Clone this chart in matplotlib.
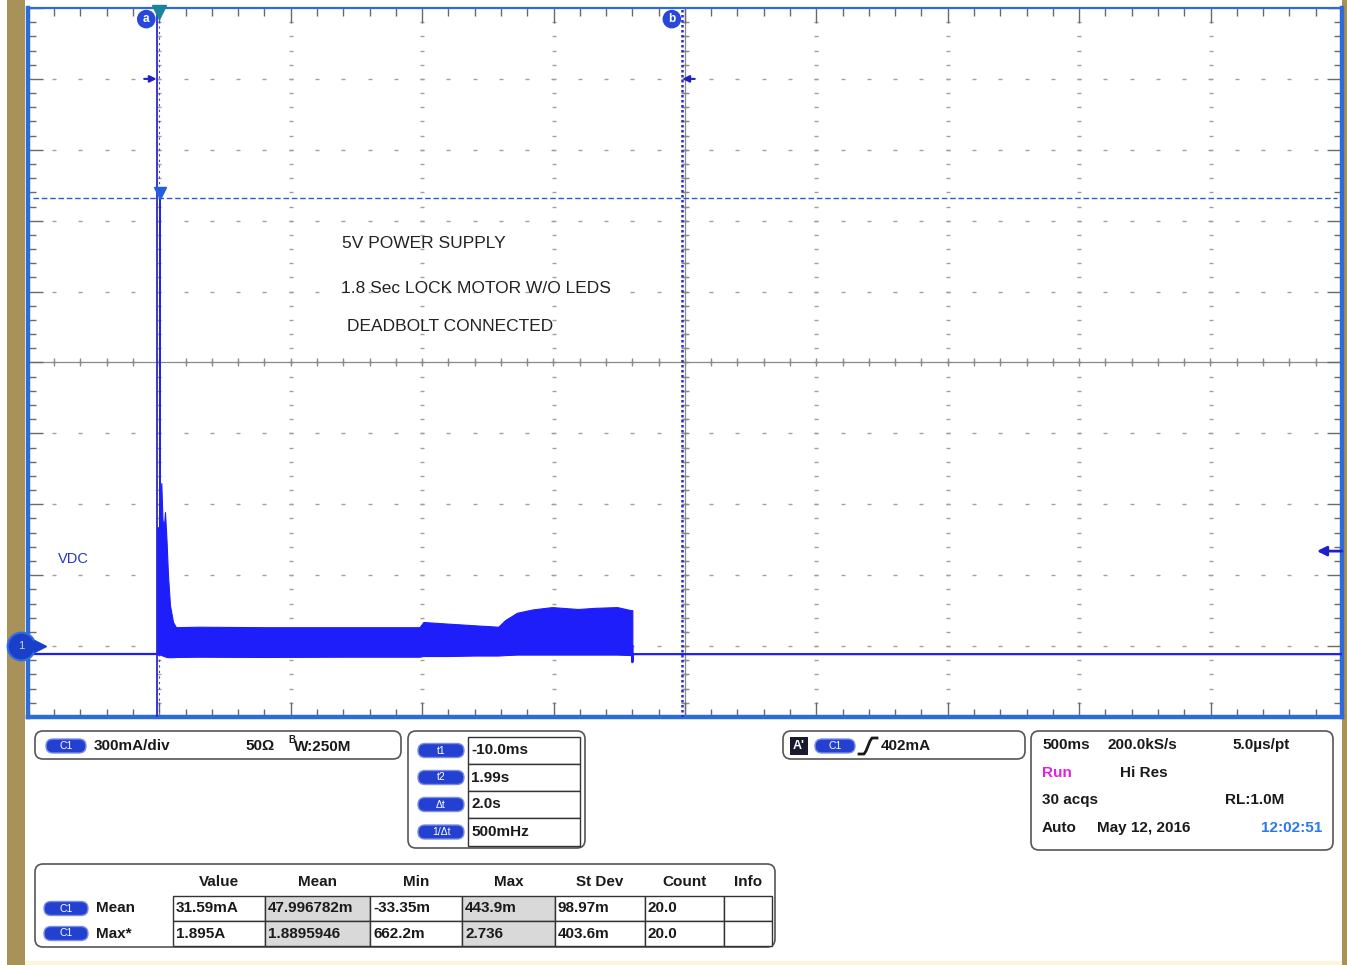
import numpy as np
import matplotlib.pyplot as plt
from matplotlib.patches import FancyBboxPatch, Rectangle
from matplotlib.transforms import offset_copy

plt.rcParams['font.family'] = ['Liberation Sans', 'DejaVu Sans']

# scope setup: 500 ms/div, 300 mA/div, 10 x 10 divisions
t_left, t_right = -0.5, 4.5
i_bottom, i_top = -0.3, 2.7
t_div, i_div = 0.5, 0.3

t1 = -0.010          # cursor a
t2 = 1.99            # cursor b
trig_level = 0.402   # A
max_level = 1.895    # A, Max* readout line
arrow_level = 2.40   # cursor arrows
ground = 0.0
baseline = -0.034

# trace envelope (s, A)
env_t = [-0.0088, -0.0011, 0.0027, 0.0076, 0.0122, 0.0179, 0.0217, 0.0274, 0.0331,
         0.0407, 0.0521, 0.0635, 0.15, 0.40, 0.70, 0.99, 1.005, 1.10, 1.20, 1.29,
         1.316, 1.361, 1.42, 1.494, 1.593, 1.66, 1.742, 1.795, 1.800]
env_hi = [0.503, 0.503, 0.618, 0.690, 0.533, 0.512, 0.567, 0.449, 0.300,
          0.173, 0.102, 0.080, 0.082, 0.080, 0.080, 0.080, 0.102, 0.095, 0.088, 0.082,
          0.110, 0.141, 0.155, 0.165, 0.157, 0.162, 0.165, 0.152, 0.152]
env_lo = [-0.036, -0.036, -0.036, -0.038, -0.040, -0.042, -0.044, -0.046, -0.047,
          -0.047, -0.047, -0.046, -0.045, -0.046, -0.045, -0.045, -0.042, -0.042, -0.040, -0.040,
          -0.038, -0.036, -0.036, -0.036, -0.036, -0.036, -0.036, -0.038, -0.038]
spike_t = [0.0027, 0.0027]
spike_i = [0.503, 1.895]
pre_t = [t_left, -0.0088]
pre_i = [baseline, baseline]
post_t = [1.800, 1.800, 1.803, t_right]
post_i = [0.0, -0.068, baseline, baseline]

notes = ["5V POWER SUPPLY", "1.8 Sec LOCK MOTOR W/O LEDS", "DEADBOLT CONNECTED"]
notes_t = [0.695, 0.691, 0.714]
notes_i = [1.705, 1.515, 1.354]

cursor_labels = ["t1", "t2", "\u0394t", "1/\u0394t"]
cursor_values = ["-10.0ms", "1.99s", "2.0s", "500mHz"]

meas_cols = ["Value", "Mean", "Min", "Max", "St Dev", "Count", "Info"]
meas_rows = ["Mean", "Max*"]
meas_vals = [["31.59mA", "47.996782m", "-33.35m", "443.9m", "98.97m", "20.0", ""],
             ["1.895A", "1.8895946", "662.2m", "2.736", "403.6m", "20.0", ""]]

W, H = 1347, 965
fig = plt.figure(figsize=(W / 100, H / 100), dpi=100)

# background panel in pixel coordinates
panel = fig.add_axes([0, 0, 1, 1], zorder=0)
panel.set_xlim(0, W)
panel.set_ylim(H, 0)
panel.axis('off')
panel.add_patch(Rectangle((7, 0), 18, H, fc='#a89259', ec='none'))
panel.add_patch(Rectangle((1342, 0), 5, H, fc='#a89259', ec='none'))
panel.add_patch(Rectangle((25, 961), 1317, 4, fc='#fbf5dc', ec='none'))

# scope screen
ax = fig.add_axes([27.9 / W, 1 - 717 / H, 1314 / W, 709 / H], zorder=1)
ax.set_xlim(t_left, t_right)
ax.set_ylim(i_bottom, i_top)
ax.set_facecolor('white')

ax.set_xticks(np.arange(t_left, t_right + 0.01, t_div))
ax.set_xticks(np.arange(t_left, t_right + 0.01, t_div / 5), minor=True)
ax.set_yticks(np.arange(i_bottom, i_top + 0.001, i_div))
ax.set_yticks(np.arange(i_bottom, i_top + 0.001, i_div / 5), minor=True)
ax.tick_params(which='both', direction='in', top=True, right=True,
               labelbottom=False, labelleft=False, color='#6a6a6a', width=1)
ax.tick_params(which='major', length=11)
ax.tick_params(which='minor', length=6)
for s in ax.spines.values():
    s.set_color('#2d6bd9')
    s.set_linewidth(3.2)
ax.spines['top'].set_linewidth(1.6)

# dotted graticule
gx = np.arange(t_left, t_right + 0.01, t_div)[1:-1]
gy = np.arange(i_bottom, i_top + 0.001, i_div)[1:-1]
mx = np.arange(t_left, t_right + 0.01, t_div / 5)[1:-1]
my = np.arange(i_bottom, i_top + 0.001, i_div / 5)[1:-1]
for y in gy:
    ax.plot(mx, np.full_like(mx, y), ls='none', marker='_', ms=3, mew=1, color='#a0a0a0', zorder=1)
for x in gx:
    ax.plot(np.full_like(my, x), my, ls='none', marker='_', ms=2.5, mew=1, color='#a0a0a0', zorder=1)
cx = (t_left + t_right) / 2
cy = (i_bottom + i_top) / 2
ax.axhline(cy, color='#8a8a8a', lw=0.9, zorder=1)
ax.axvline(cx, color='#8a8a8a', lw=0.9, zorder=1)
ax.plot(mx, np.full_like(mx, cy), ls='none', marker='|', ms=6, color='#8a8a8a', zorder=1)
ax.plot(np.full_like(my, cx), my, ls='none', marker='_', ms=6, color='#8a8a8a', zorder=1)

# cursors and markers
cur = '#2a2ad0'
ax.axvline(t1, color=cur, lw=1.3, zorder=4)
ax.axvline(t2, color=cur, lw=1.8, ls=(0, (1, 1)), zorder=4)
ax.axvline(0, color='#4040e0', lw=0.8, ls=(0, (2, 3)), zorder=2)
ax.axhline(max_level, xmin=0.004, xmax=0.996, color='#2a5ad8', lw=1, ls=(0, (4, 2)), zorder=2)
ax.plot([0.0027], [max_level], marker='v', ms=9, color='#1f5fe0', zorder=6,
        transform=offset_copy(ax.transData, fig, x=0, y=4, units='points'))
ax.plot([0], [i_top], marker='v', ms=10, color='#18869a', clip_on=False, zorder=6,
        transform=offset_copy(ax.transData, fig, x=0, y=-3, units='points'))
for t, lab in [(t1, 'a'), (t2, 'b')]:
    ax.annotate(lab, xy=(t, i_top), xytext=(-7.5, -8), textcoords='offset points',
                ha='center', va='center', color='white', fontsize=8.5, fontweight='bold',
                bbox=dict(boxstyle='circle,pad=0.28', fc='#2748d8', ec='none'), zorder=7)
arr = dict(arrowstyle='-|>', color='#2020c8', lw=1.5, mutation_scale=10, shrinkA=0, shrinkB=0)
ax.annotate('', xy=(t1, arrow_level), xytext=(-9, 0), textcoords='offset points',
            arrowprops=arr, zorder=7)
ax.annotate('', xy=(t2, arrow_level), xytext=(9, 0), textcoords='offset points',
            arrowprops=arr, zorder=7)
ax.annotate('', xy=(t_right, trig_level), xytext=(-18, 0), textcoords='offset points',
            arrowprops=dict(arrowstyle='<|-', color='#2020c8', lw=2, mutation_scale=14,
                            shrinkA=0, shrinkB=0), zorder=7)

# ground marker for channel 1
gtr = offset_copy(ax.transData, fig, x=-5, y=0, units='points')
ax.plot([t_left], [ground], marker='o', ms=20, color='#1a3fc8', mec='#2f6fe0', mew=1.5,
        clip_on=False, transform=gtr, zorder=8)
ax.text(t_left, ground, '1', color='#c8d4ff', fontsize=8, ha='center', va='center',
        transform=gtr, zorder=9)
ax.plot([t_left], [ground], marker='>', ms=9, color='#1a3fc8', clip_on=False, zorder=8,
        transform=offset_copy(ax.transData, fig, x=9, y=0, units='points'))
ax.text(-0.385, 0.37, 'VDC', color='#2535c5', fontsize=10.5, va='center')

# trace
tc = '#1e1efa'
ax.plot(pre_t, pre_i, color=tc, lw=1.6, zorder=3)
ax.plot(post_t, post_i, color=tc, lw=1.6, zorder=3)
ax.fill_between(env_t, env_lo, env_hi, color=tc, lw=0.8, zorder=3)
ax.plot(spike_t, spike_i, color=tc, lw=1.4, zorder=3)

for txt, t, i in zip(notes, notes_t, notes_i):
    ax.text(t, i, txt, fontsize=12.5, color='#222222', va='center', zorder=5)

# ---- readout panels (pixel coordinates) ----
tk = dict(fontsize=11, fontweight='bold', color='#1a1a1a', va='center')


def box(x0, y0, x1, y1):
    panel.add_patch(FancyBboxPatch((x0, y0), x1 - x0, y1 - y0,
                                   boxstyle='round,pad=0,rounding_size=8',
                                   fc='white', ec='#555555', lw=1.2))


def pill(x, y, label, w=40, h=14):
    panel.add_patch(FancyBboxPatch((x - w / 2, y - h / 2), w, h,
                                   boxstyle='round,pad=0,rounding_size=7',
                                   fc='#2340d0', ec='#7a8ee8', lw=1))
    panel.text(x, y, label, color='white', fontsize=7.5, ha='center', va='center')


box(35, 731, 401, 759)
pill(66, 746, 'C1')
panel.text(94, 746, '300mA/div', **tk)
panel.text(245, 746, '50\u03a9', **tk)
panel.text(288, 740, 'B', fontsize=7, fontweight='bold', color='#1a1a1a', va='center')
panel.text(294, 747, 'W:250M', **tk)

box(408, 731, 585, 848)
rows = [737, 764, 791, 818, 846]
for k, (lab, val) in enumerate(zip(cursor_labels, cursor_values)):
    panel.add_patch(Rectangle((468, rows[k]), 112, rows[k + 1] - rows[k], fc='white', ec='#333333', lw=1))
    yc = (rows[k] + rows[k + 1]) / 2
    pill(441, yc, lab, w=46)
    panel.text(471, yc, val, **tk)

box(783, 731, 1025, 759)
panel.add_patch(Rectangle((790, 737), 18, 18, fc='#1a1a2e', ec='none'))
panel.text(799, 746, "A'", color='white', fontsize=9, fontweight='bold', ha='center', va='center')
pill(835, 746, 'C1')
panel.plot([859, 864, 866, 870, 872, 877], [754, 754, 751, 741, 738, 738], color='#1a1a1a', lw=2)
panel.text(881, 746, '402mA', **tk)

box(1031, 731, 1333, 850)
panel.text(1042, 745, '500ms', **tk)
panel.text(1107, 745, '200.0kS/s', **tk)
panel.text(1232, 745, '5.0\u00b5s/pt', **tk)
panel.text(1042, 773, 'Run', **{**tk, 'color': '#e020e0'})
panel.text(1120, 773, 'Hi Res', **tk)
panel.text(1042, 800, '30 acqs', **tk)
panel.text(1225, 800, 'RL:1.0M', **tk)
panel.text(1042, 828, 'Auto', **tk)
panel.text(1097, 828, 'May 12, 2016', **tk)
panel.text(1261, 828, '12:02:51', **{**tk, 'color': '#2a7ae8'})

box(35, 864, 775, 947)
col_x = [173, 265, 370, 462, 555, 645, 724, 772]
row_y = [896, 921, 946]
shaded = {1, 3}
for c, name in enumerate(meas_cols):
    panel.text((col_x[c] + col_x[c + 1]) / 2, 882, name, ha='center', **tk)
for r, rname in enumerate(meas_rows):
    yc = (row_y[r] + row_y[r + 1]) / 2
    pill(66, yc, 'C1', w=44)
    panel.text(96, yc, rname, **tk)
    for c in range(len(meas_cols)):
        panel.add_patch(Rectangle((col_x[c], row_y[r]), col_x[c + 1] - col_x[c], row_y[r + 1] - row_y[r],
                                  fc='#d9d9d9' if c in shaded else 'white', ec='#333333', lw=1))
        panel.text(col_x[c] + 3, yc, meas_vals[r][c], **tk)

fig.savefig('out.png', dpi=100)
